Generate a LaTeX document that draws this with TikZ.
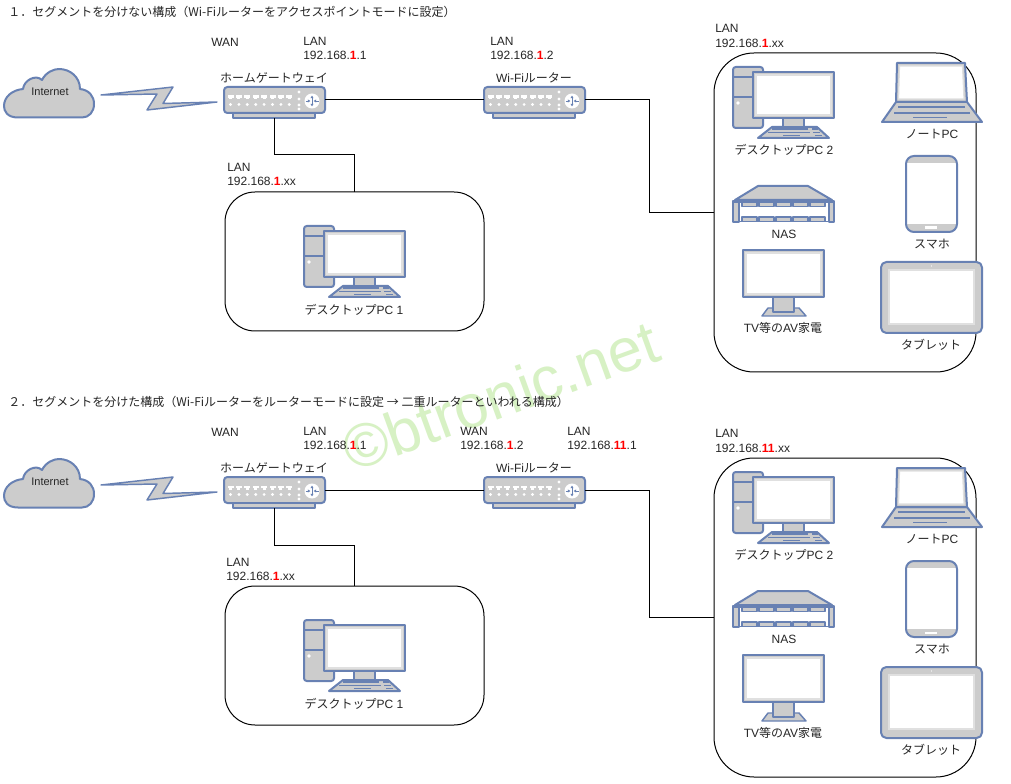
\documentclass[tikz,border=0pt]{standalone}
\usepackage{fontspec}
\setmainfont{Liberation Sans}
\newfontfamily\jp{Noto Sans CJK JP}
\usetikzlibrary{arrows.meta}
\definecolor{iconblue}{HTML}{6881B3}
\definecolor{icongray}{HTML}{CCCCCC}
\definecolor{markgreen}{HTML}{D7F1C4}
\newcommand{\hl}[1]{\textcolor{red}{\textbf{#1}}}
\tikzset{
	lbl/.style={anchor=west, inner sep=0pt, text=black!85, font=\fontsize{9}{11}\selectfont},
	iconcap/.style={lbl, anchor=center},
	conn/.style={draw=black, line width=0.75pt},
	lanbox/.style={draw=black, line width=0.75pt, fill=white, inner sep=0pt, outer sep=0pt},
	icon/.style={draw=iconblue, fill=icongray, line width=1.5pt, line join=round},
	iconline/.style={draw=iconblue, line width=1.1pt},
	screen/.style={fill=white, draw=black!12, line width=0.9pt},
	pics/cloudicon/.style={code={
		\path [icon] (14,48.5) .. controls (3,48.5) and (0,42) .. (0,37)
			.. controls (0,28) and (8,21) .. (19,20)
			.. controls (20,11) and (32,5) .. (38,11)
			.. controls (42,3) and (50,0) .. (55,0)
			.. controls (66,0) and (76,8) .. (76,20)
			.. controls (85,21) and (90,27) .. (90,35)
			.. controls (90,43) and (85,48.5) .. (78,48.5) -- cycle;
	}},
	pics/routericon/.style={code={
		\node [icon, rectangle, rounded corners=2.5pt, inner sep=0pt, outer sep=0pt,%
				minimum width=75.75pt, minimum height=19.5pt] (-body) at (50.5,13) {};
		\node [icon, rectangle, inner sep=0pt, outer sep=0pt, line width=1pt,%
				minimum width=61.5pt, minimum height=3.75pt] (-foot) at (50,28.5) {};
		\foreach \i in {0,...,7} {
			\fill [white] (3.5+8.4*\i,8.5) rectangle (9.5+8.4*\i,11);
			\fill [white] (5+8.4*\i,11) rectangle (8+8.4*\i,12.5);
			\fill [white] (6.5+8.4*\i,17.5) circle (1.6);
		}
		\foreach \j in {5,12,18,22} \fill [white] (75,\j) circle (1.6);
		\fill [white] (88,14) circle (7.5);
		\draw [iconblue, line width=0.7pt, {Latex[length=2pt,width=2.5pt]}-{Latex[length=2pt,width=2.5pt]}] (88,8.5) -- (88,19.5);
		\draw [iconblue, line width=0.7pt, -{Latex[length=2pt,width=2.5pt]}] (81.5,14) -- (86.5,14);
		\draw [iconblue, line width=0.7pt, -{Latex[length=2pt,width=2.5pt]}] (94.5,14) -- (89.5,14);
	}},
	pics/pcicon/.style={code={
		\path [icon, rounded corners=2pt] (0,0) rectangle (30,61);
		\draw [iconline] (0,10) -- (30,10) (0,30) -- (30,30);
		\fill [white] (5,36) circle (1.8);
		\path [icon] (39,60) -- (84,60) -- (96,71) -- (25,71) -- cycle;
		\path [icon] (50,51) rectangle (71,60);
		\path [icon] (20,5) rectangle (101,51);
		\path [screen] (23,8) rectangle (98,48);
		\draw [iconline] (39,62) -- (75,62) (79,62) -- (85,62)
			(35,65.5) -- (77,65.5) (80,65.5) -- (87,65.5)
			(50,68.5) -- (67,68.5) (82,68.5) -- (89,68.5);
	}},
	pics/laptopicon/.style={code={
		\path [icon] (14,39) -- (85,39) -- (100,59) -- (0,59) -- cycle;
		\path [icon] (15,0) -- (83,0) -- (85,39) -- (14,39) -- cycle;
		\path [screen] (17.5,3) -- (80.5,3) -- (82,36) -- (16.5,36) -- cycle;
		\draw [iconline] (16,44) -- (83,44) (12,50) -- (88,50) (31,54.5) -- (65,54.5);
	}},
	pics/phoneicon/.style={code={
		\path [icon, draw=none, rounded corners=6pt] (0,0) rectangle (51,76);
		\fill [white] (0,7) rectangle (51,68);
		\fill [white] (19,70.5) rectangle (31,73);
		\draw [iconblue, line width=1.5pt, rounded corners=6pt] (0,0) rectangle (51,76);
	}},
	pics/nasicon/.style={code={
		\path [icon] (25,0) -- (75,0) -- (99,14) -- (2,14) -- cycle;
		\path [icon] (0,15) rectangle (5.5,36);
		\path [icon] (95.5,15) rectangle (101,36);
		\draw [iconline] (0,16) -- (101,16);
		\foreach \i in {0,...,4} {
			\path [icon, line width=1pt] (9+17*\i,16.5) rectangle (24+17*\i,20.5);
			\path [icon, line width=1pt] (9+17*\i,31) rectangle (24+17*\i,35.5);
		}
		\draw [iconline] (0,35.5) -- (101,35.5);
	}},
	pics/tvicon/.style={code={
		\path [icon, line width=1.1pt] (25,58) -- (56,58) -- (63,66) -- (19,66) -- cycle;
		\path [icon] (30,47) rectangle (51,62);
		\path [icon] (0,0) rectangle (81,47);
		\path [screen] (3,3) rectangle (78,44);
	}},
	pics/tableticon/.style={code={
		\path [icon, rounded corners=4pt] (0,0) rectangle (101,71);
		\path [screen] (8,8) rectangle (93,62);
		\fill [white] (50.5,4) circle (0.7);
	}}
}
\begin{document}
\begin{tikzpicture}[x=0.75pt, y=-0.75pt]
	\useasboundingbox (0,0) rectangle (1011,784);
	\fill [white] (0,0) rectangle (1011,784);
	\node (mark) at (508,416) [anchor=base, rotate=20, text=markgreen, inner sep=0pt, font=\fontsize{46}{50}\selectfont] {©btronic.net};
	\node (titlea) at (8,12) [lbl] {\jp １．セグメントを分けない構成（Wi-Fiルーターをアクセスポイントモードに設定）};
	\node (titleb) at (8,402) [lbl] {\jp ２．セグメントを分けた構成（Wi-Fiルーターをルーターモードに設定 → 二重ルーターといわれる構成）};
	\foreach \s/\dy in {a/0,b/390} {
		\pic (cloud\s) at (4,69+\dy) {cloudicon};
		\node (inet\s) at (50,92+\dy) [iconcap, font=\fontsize{8.25}{10}\selectfont] {Internet};
		\path [icon, line width=1.1pt] (101,95+\dy) -- (173,87+\dy) -- (163,103.5+\dy) -- (217,102+\dy)%
			-- (147,110+\dy) -- (157,94+\dy) -- cycle;
		\pic (gw\s) at (224,87+\dy) {routericon};
		\pic (wifi\s) at (484,87+\dy) {routericon};
		\node (gwname\s) at (274,78+\dy) [iconcap] {\jp ホームゲートウェイ};
		\node (wifiname\s) at (534,78+\dy) [iconcap] {Wi-Fi{\jp ルーター}};
		\node (wan\s) at (211,43+\dy-0.5) [lbl] {WAN};
		\node (lanhead\s) at (303,41+\dy) [lbl] {LAN};
		\draw [conn] (gw\s-body.east) -- (wifi\s-body.west);
	}
	\node (gwipa) at (303,55) [lbl] {192.168.\hl{1}.1};
	\node (wifilana) at (490,41) [lbl] {LAN};
	\node (wifiipa) at (490,55) [lbl] {192.168.\hl{1}.2};
	\node (gwipb) at (303,445) [lbl] {192.168.\hl{1}.1};
	\node (wifiwanb) at (460,431) [lbl] {WAN};
	\node (wifiipb) at (460,445) [lbl] {192.168.\hl{1}.2};
	\node (wifilanb) at (567,431) [lbl] {LAN};
	\node (wifilanipb) at (567,445) [lbl] {192.168.\hl{11}.1};
	\foreach \s/\dy in {a/0,b/394} {
		\node (boxl\s) at (354.5,261.5+\dy) [lanbox, rectangle, rounded corners=22.5pt,%
				minimum width=194.25pt, minimum height=104.25pt] {};
		\pic (pcone\s) at (304,226+\dy) {pcicon};
		\node (pconename\s) at (354,310+\dy) [iconcap] {\jp デスクトップ{\rmfamily PC 1}};
		\draw [conn] (gw\s-foot.south) -- ++(0,37) -| (boxl\s.north);
	}
	\node (lanlheada) at (227,167) [lbl] {LAN};
	\node (lanlipa) at (227,181) [lbl] {192.168.\hl{1}.xx};
	\node (lanlheadb) at (226,562) [lbl] {LAN};
	\node (lanlipb) at (226,576) [lbl] {192.168.\hl{1}.xx};
	\foreach \s/\dy in {a/0,b/405} {
		\node (boxr\s) at (845,212.5+\dy) [lanbox, rectangle, rounded corners=30pt,%
				minimum width=196.5pt, minimum height=239.25pt] {};
		\pic (pctwo\s) at (733,67+\dy) {pcicon};
		\node (pctwoname\s) at (784,150+\dy) [iconcap] {\jp デスクトップ{\rmfamily PC 2}};
		\pic (laptop\s) at (882,63+\dy) {laptopicon};
		\node (laptopname\s) at (932,134+\dy) [iconcap] {\jp ノート{\rmfamily PC}};
		\pic (nas\s) at (733,186+\dy) {nasicon};
		\node (nasname\s) at (784,234+\dy) [iconcap] {NAS};
		\pic (phone\s) at (906,156+\dy) {phoneicon};
		\node (phonename\s) at (932,244+\dy) [iconcap] {\jp スマホ};
		\pic (tv\s) at (743,250+\dy) {tvicon};
		\node (tvname\s) at (783,328+\dy) [iconcap] {TV{\jp 等の}AV{\jp 家電}};
		\pic (tablet\s) at (881,262+\dy) {tableticon};
		\node (tabletname\s) at (931,345+\dy) [iconcap] {\jp タブレット};
	}
	\draw [conn] (wifia-body.east) -- ++(64,0) |- (boxra.west);
	\draw [conn] (wifib-body.east) -- ++(64,0) |- (boxrb.west);
	\node (lanrheada) at (715,28) [lbl] {LAN};
	\node (lanripa) at (715,43) [lbl] {192.168.\hl{1}.xx};
	\node (lanrheadb) at (715,433) [lbl] {LAN};
	\node (lanripb) at (715,448) [lbl] {192.168.\hl{11}.xx};
\end{tikzpicture}
\end{document}
